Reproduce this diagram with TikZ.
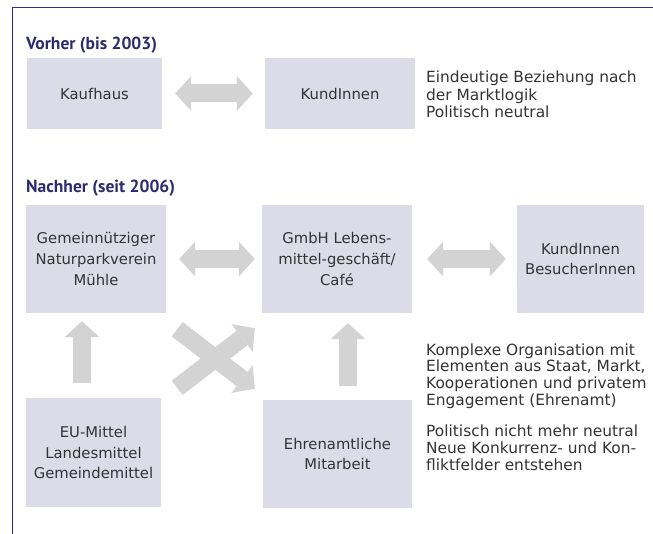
\documentclass[tikz,border=0pt]{standalone}
\usepackage{fontspec}
\setmainfont{DejaVu Sans}
\newfontfamily\headfont{PT Sans}
\usetikzlibrary{arrows.meta,calc}
\definecolor{boxfill}{HTML}{DCDCE9}
\definecolor{arrowgray}{HTML}{D3D3D4}
\definecolor{navy}{HTML}{2B2B6E}
\definecolor{framecol}{HTML}{30307F}
\definecolor{txt}{HTML}{333333}
\tikzset{
  box/.style={rectangle, fill=boxfill, inner sep=0pt, align=center, text=txt,
    font=\fontsize{14.8}{20.7}\selectfont},
  sidetext/.style={inner sep=0pt, align=left, text=txt, anchor=west,
    font=\fontsize{15.4}{16.6}\selectfont},
  headlabel/.style={inner sep=0pt, anchor=base west, text=navy,
    font=\headfont\bfseries\fontsize{17.5}{20}\selectfont},
  fat/.style={line width=18pt, draw=arrowgray},
  fatdbl/.style={fat, {Triangle[width=35pt,length=16pt,line width=0pt]}-{Triangle[width=35pt,length=16pt,line width=0pt]}},
  fatsgl/.style={fat, -{Triangle[width=35pt,length=16pt,line width=0pt]}},
  framerule/.style={draw=framecol, line width=1.3pt},
}
\begin{document}
\begin{tikzpicture}[x=1pt, y=-1pt]
\useasboundingbox (0,0) rectangle (653,534);
% frame
\draw[framerule] (12.5,534) -- (12.5,7.3) -- (653,7.3);

% headers
\node[headlabel] (vorher) at (26,50) {Vorher (bis 2003)};
\node[headlabel] (nachher) at (26,192.5) {Nachher (seit 2006)};

% top row
\node[box, minimum width=135pt, minimum height=71pt] (kauf) at (94.5,93.5) {Kaufhaus};
\node[box, minimum width=150pt, minimum height=71pt] (kund1) at (340,93.5) {KundInnen};
\node[sidetext, font=\fontsize{15.4}{17.5}\selectfont] (logik) at (426,94.7)
  {Eindeutige Beziehung nach\\der Marktlogik\\Politisch neutral};

% second row
\node[box, minimum width=140pt, minimum height=108pt] (verein) at (96,259)
  {Gemeinnütziger\\Naturparkverein\\Mühle};
\node[box, minimum width=150pt, minimum height=108pt] (gmbh) at (337,259)
  {GmbH Lebens-\\mittel-geschäft/\\Café};
\node[box, minimum width=127pt, minimum height=108pt] (kund2) at (580.5,259)
  {KundInnen\\BesucherInnen};

% bottom row
\node[box, minimum width=135pt, minimum height=109pt] (eu) at (93.5,452.5)
  {EU-Mittel\\Landesmittel\\Gemeindemittel};
\node[box, minimum width=149pt, minimum height=108pt] (ehren) at (337.5,454)
  {Ehrenamtliche\\Mitarbeit};

% side texts
\node[sidetext] (komplex) at (426,376)
  {Komplexe Organisation mit\\Elementen aus Staat, Markt,\\Kooperationen und privatem\\Engagement (Ehrenamt)};
\node[sidetext] (neutral) at (426,447.7)
  {Politisch nicht mehr neutral\\Neue Konkurrenz- und Kon-\\fliktfelder entstehen};

% block arrows
\draw[fatdbl] ($(kauf.east)+(13,0)$) -- ($(kund1.west)+(-12,0)$);
\draw[fatdbl] ($(verein.east)+(13,0)$) -- ($(gmbh.west)+(-7,0)$);
\draw[fatdbl] ($(gmbh.east)+(15,0)$) -- ($(kund2.west)+(-11,0)$);
\draw[fatsgl] ($(eu.north)+(-11.5,-15)$) -- ($(verein.south)+(-14,8)$);
\draw[fatsgl] ($(ehren.north)+(10.5,-14)$) -- ($(gmbh.south)+(11,10)$);
\draw[fatsgl] ($(verein.south east)+(11,16)$) -- ($(ehren.north west)+(-8,-11)$);
\draw[fatsgl] ($(eu.north east)+(16,-10)$) -- ($(gmbh.south west)+(-7,15)$);
\end{tikzpicture}
\end{document}
